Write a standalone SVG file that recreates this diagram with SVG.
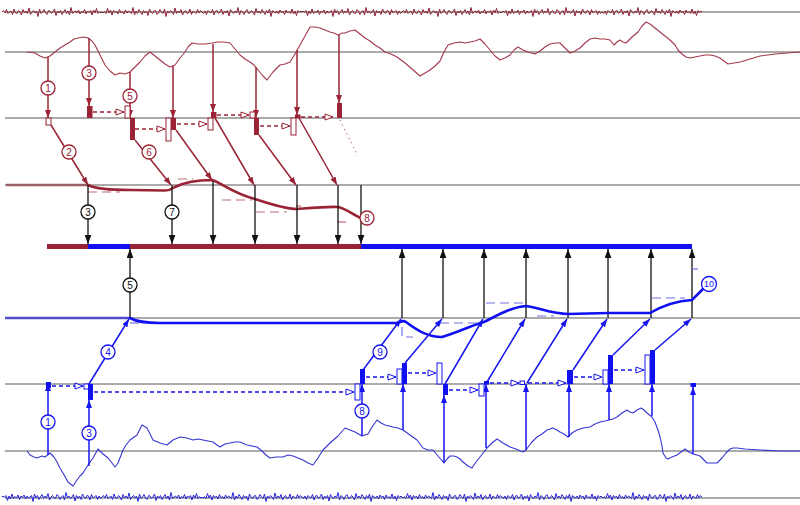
<svg xmlns="http://www.w3.org/2000/svg" xmlns:xlink="http://www.w3.org/1999/xlink" width="800" height="505" viewBox="0 0 800 505">
<style>
.g{stroke:#8f8f8f;stroke-width:1.5;fill:none}
.r{stroke:#9a2335;stroke-width:1.5;fill:none}
.rd{stroke:#9a2335;stroke-width:1.4;stroke-dasharray:4 3;fill:none}
.rl{stroke:#c06a78;stroke-width:1.2;stroke-dasharray:9 5;fill:none}
.rf{fill:#9a2335}
.rh{fill:#fff;stroke:#9a2335;stroke-width:1}
.b{stroke:#1515f0;stroke-width:1.5;fill:none}
.bd{stroke:#1515f0;stroke-width:1.4;stroke-dasharray:4 3;fill:none}
.bl{stroke:#7070e4;stroke-width:1.2;stroke-dasharray:9 5;fill:none}
.bf{fill:#1010f0}
.bh{fill:#fff;stroke:#1515f0;stroke-width:1}
.k{stroke:#111;stroke-width:1.3;fill:none}
.nr{stroke:#8e2233;stroke-width:1;fill:none}
.nb{stroke:#2626d8;stroke-width:1;fill:none}
.cr{fill:#fff;stroke:#9a2335;stroke-width:1.3}
.cb{fill:#fff;stroke:#1515f0;stroke-width:1.3}
.ck{fill:#fff;stroke:#111;stroke-width:1.3}
text{font-family:"Liberation Sans",Arial,sans-serif;font-size:10px;text-anchor:middle;dominant-baseline:central}
.tr{fill:#9a2335}.tb{fill:#1515f0}.tk{fill:#111}
</style>
<defs>
<marker id="ar" viewBox="0 0 8 6" refX="8" refY="3" markerWidth="8" markerHeight="6" orient="auto" markerUnits="userSpaceOnUse"><path d="M0,0L8,3L0,6z" fill="#9a2335"/></marker>
<marker id="arh" viewBox="-1 -1 10 8" refX="8" refY="3" markerWidth="10" markerHeight="8" orient="auto" markerUnits="userSpaceOnUse"><path d="M0,0L8,3L0,6z" fill="#fff" stroke="#9a2335" stroke-width="1"/></marker>
<marker id="ab" viewBox="0 0 8 6" refX="8" refY="3" markerWidth="8" markerHeight="6" orient="auto" markerUnits="userSpaceOnUse"><path d="M0,0L8,3L0,6z" fill="#1515f0"/></marker>
<marker id="abh" viewBox="-1 -1 10 8" refX="8" refY="3" markerWidth="10" markerHeight="8" orient="auto" markerUnits="userSpaceOnUse"><path d="M0,0L8,3L0,6z" fill="#fff" stroke="#1515f0" stroke-width="1"/></marker>
<marker id="ak" viewBox="0 0 8 6" refX="8" refY="3" markerWidth="9" markerHeight="7" orient="auto" markerUnits="userSpaceOnUse"><path d="M0,0L8,3L0,6z" fill="#111"/></marker>
<polyline id="nz" points="0,0 1.5,-1.5 3,1 4.5,-2.5 6,1.5 7.5,0 9,-1 10.5,2.5 12,-3 13.5,1 15,1.5 16.5,-1.5 18,0 19.5,3 21,-2.5 22.5,1 24,-1 25.5,1.5 27,-4 28.5,2.5 30,0 31.5,-1.5 33,1 34.5,-1 36,4.5 37.5,-3 39,1.5 40.5,0 42,-2.5 43.5,1 45,2.5 46.5,-1.5 48,-1 49.5,1.5 51,0 52.5,-3 54,3.5 55.5,-1 57,1 58.5,-1.5 60,2.5 61.5,0 63,-2.5 64.5,1.5 66,-1 67.5,3 69,-4.5 70.5,1.5 72,0 73.5,-1 75,1 76.5,-2 78,2 79.5,-0.5 81,1 82.5,-2.5 84,2 85.5,-1 87,0.5 88.5,-1.5 90,3 91.5,-2 93,1 94.5,-3.5 96,1.5 97.5,-0.5 99,1 100,0"/>
</defs>

<g id="gridlines">
<line class="g" x1="5" y1="12" x2="800" y2="12"/>
<line class="g" x1="5" y1="52" x2="800" y2="52"/>
<line class="g" x1="5" y1="118" x2="800" y2="118"/>
<line class="g" x1="5" y1="185" x2="800" y2="185"/>
<line class="g" x1="5" y1="318" x2="800" y2="318"/>
<line class="g" x1="5" y1="384" x2="800" y2="384"/>
<line class="g" x1="5" y1="451" x2="800" y2="451"/>
<line class="g" x1="5" y1="498" x2="800" y2="498"/>
<line x1="6" y1="185" x2="88" y2="185" stroke="#9a6068" stroke-width="2.5"/>
<line x1="5" y1="318" x2="130" y2="318" stroke="#4e4ec8" stroke-width="2.5"/>
</g>

<g id="noise-top">
<use xlink:href="#nz" class="nr" transform="translate(2,12)"/>
<use xlink:href="#nz" class="nr" transform="translate(202,12) scale(-1,1)"/>
<use xlink:href="#nz" class="nr" transform="translate(202,12) scale(1,-1)"/>
<use xlink:href="#nz" class="nr" transform="translate(402,12) scale(-1,-1)"/>
<use xlink:href="#nz" class="nr" transform="translate(402,12)"/>
<use xlink:href="#nz" class="nr" transform="translate(602,12) scale(-1,-1)"/>
<use xlink:href="#nz" class="nr" transform="translate(602,12) scale(1,-1)"/>
</g>
<g id="noise-bottom">
<use xlink:href="#nz" class="nb" transform="translate(102,497) scale(-1,-1)"/>
<use xlink:href="#nz" class="nb" transform="translate(102,497)"/>
<use xlink:href="#nz" class="nb" transform="translate(302,497) scale(-1,1)"/>
<use xlink:href="#nz" class="nb" transform="translate(302,497) scale(1,-1)"/>
<use xlink:href="#nz" class="nb" transform="translate(502,497) scale(-1,1)"/>
<use xlink:href="#nz" class="nb" transform="translate(502,497) scale(1,-1)"/>
<use xlink:href="#nz" class="nb" transform="translate(702,497) scale(-1,1)"/>
</g>

<g id="signal-red">
<polyline fill="none" stroke="#a3384a" stroke-width="1.1" stroke-linejoin="round" points="27,52 35,53 40,56 45,58 50,56 55,52 60,48 65,45 70,42 74,39 78,38 84,37 88,38 92,41 95,45 100,55 105,65 110,71 115,75 120,73 125,74 130,72 135,67 140,62 145,56 150,52 155,56 160,60 165,64 170,67 175,65 180,58 185,52 188,47 192,43 198,44 205,44 212,43 218,42 224,42 230,43 235,49 240,55 245,59 250,62 254,65 258,70 263,76 267,80 273,72 280,65 285,64 290,62 295,54 300,45 305,36 310,27 315,27 320,28 325,30 330,32 334,33 338,35 342,33 345,33 350,31 355,30 360,34 365,38 370,41 375,45 380,48 385,52 391,54 397,57 401,60 405,63 412,69 420,76 425,73 430,70 435,66 440,61 444,52 448,45 454,43 460,42 465,43 470,42 475,41 480,39 485,44 490,50 495,56 500,60 505,58 510,55 514,50 518,47 523,50 528,52 535,54 540,51 545,47 550,44 555,43 560,43 565,48 570,53 575,51 580,48 585,43 590,39 595,38 600,39 605,39 610,40 614,45 617,42 620,40 623,42 626,43 632,37 638,32 642,26 646,22 650,24 655,28 660,32 665,36 670,40 675,45 678,50 682,54 686,57 690,58 695,57 700,56 705,55 710,55 715,56 720,58 724,61 728,64 734,63 740,62 750,59 760,56 775,54 800,52"/>
</g>

<g id="signal-blue">
<polyline fill="none" stroke="#3636d4" stroke-width="1.1" stroke-linejoin="round" points="27,451 30,455 34,457 37,458 42,456 45,457 50,453 54,457 57,462 60,468 63,473 68,482 73,486 77,480 80,476 83,473 88,465 93,458 98,449 103,454 108,458 112,463 115,467 118,463 123,450 126,445 130,440 137,435 142,425 147,428 150,434 153,440 160,443 167,445 173,440 180,437 187,438 193,440 198,439 203,440 208,441 213,442 217,445 220,447 225,444 230,443 235,442 240,442 247,445 252,446 257,447 262,451 266,455 270,458 276,457 283,457 288,455 293,456 298,458 303,460 308,463 313,465 318,458 323,450 330,443 338,436 345,428 350,430 355,432 362,436 368,434 372,427 377,420 381,423 385,425 389,426 393,427 398,428 403,430 410,435 417,440 423,448 428,450 433,450 438,456 444,463 447,459 450,456 454,456 457,457 460,459 463,462 468,466 472,468 476,462 480,457 484,452 487,448 492,443 497,439 503,443 510,447 516,449 523,452 526,450 531,443 537,437 542,434 547,430 553,428 557,430 560,432 564,434 568,437 572,433 577,430 583,428 590,427 595,424 600,422 605,421 609,420 613,419 617,417 622,413 627,410 630,412 633,413 637,410 641,408 644,410 647,413 652,417 655,422 658,430 660,437 662,446 663,453 666,458 668,459 672,457 677,455 681,452 685,449 689,452 693,454 697,455 700,456 704,460 707,463 712,463 717,463 720,460 722,458 726,453 730,449 733,448 737,448 745,449 760,450 780,451 800,451"/>
</g>

<g id="red-measurement-arrows">
<line class="r" x1="48" y1="57" x2="48" y2="118" marker-end="url(#ar)"/>
<line class="r" x1="89" y1="38" x2="89" y2="106" marker-end="url(#ar)"/>
<line class="r" x1="130" y1="72" x2="130" y2="118" marker-end="url(#ar)"/>
<line class="r" x1="173" y1="66" x2="173" y2="118" marker-end="url(#ar)"/>
<line class="r" x1="213" y1="44" x2="213" y2="112" marker-end="url(#ar)"/>
<line class="r" x1="256" y1="67" x2="256" y2="118" marker-end="url(#ar)"/>
<line class="r" x1="297" y1="50" x2="297" y2="115" marker-end="url(#ar)"/>
<line class="r" x1="339" y1="35" x2="339" y2="103" marker-end="url(#ar)"/>
</g>

<g id="red-blocks">
<rect class="rh" x="46" y="118" width="5" height="7"/>
<rect class="rf" x="87" y="106" width="5.5" height="12"/>
<rect class="rh" x="125" y="106" width="5" height="12"/>
<rect class="rf" x="130" y="118" width="5" height="22"/>
<rect class="rh" x="166" y="118" width="5" height="23"/>
<rect class="rf" x="171" y="118" width="5" height="12"/>
<rect class="rh" x="208" y="118" width="5" height="12"/>
<rect class="rf" x="211" y="112" width="5.5" height="6"/>
<rect class="rh" x="250" y="112" width="5" height="6"/>
<rect class="rf" x="254" y="118" width="5" height="17"/>
<rect class="rh" x="291" y="118" width="5" height="17"/>
<rect class="rf" x="295" y="114.5" width="5.5" height="3.5"/>
<rect class="rf" x="337" y="103" width="5" height="15"/>
</g>

<g id="red-dashed-arrows">
<line class="rd" x1="93" y1="112" x2="124" y2="112" marker-end="url(#arh)"/>
<line class="rd" x1="135" y1="129" x2="165" y2="129" marker-end="url(#arh)"/>
<line class="rd" x1="177" y1="124" x2="207" y2="124" marker-end="url(#arh)"/>
<line class="rd" x1="217" y1="115" x2="249" y2="115" marker-end="url(#arh)"/>
<line class="rd" x1="260" y1="126" x2="290" y2="126" marker-end="url(#arh)"/>
<line class="rd" x1="301" y1="117" x2="333" y2="117" marker-end="url(#arh)"/>
</g>

<g id="red-diagonals">
<line class="r" x1="51" y1="125" x2="88" y2="185" marker-end="url(#ar)"/>
<line class="r" x1="135" y1="140" x2="171" y2="185" marker-end="url(#ar)"/>
<line class="r" x1="176" y1="130" x2="212" y2="180" marker-end="url(#ar)"/>
<line class="r" x1="215" y1="118" x2="254" y2="185" marker-end="url(#ar)"/>
<line class="r" x1="259" y1="135" x2="296" y2="185" marker-end="url(#ar)"/>
<line class="r" x1="299" y1="118" x2="337" y2="185" marker-end="url(#ar)"/>
<line x1="340" y1="120" x2="358" y2="156" stroke="#9a2335" stroke-width="1" stroke-dasharray="1 4"/>
</g>

<g id="red-estimate">
<line class="rl" x1="88" y1="192" x2="120" y2="192"/>
<line class="rl" x1="178" y1="179" x2="193" y2="179"/>
<line class="rl" x1="222" y1="200" x2="252" y2="200"/>
<line class="rl" x1="256" y1="212" x2="287" y2="212"/>
<line class="rl" x1="296" y1="206" x2="301" y2="206"/>
<line class="rl" x1="337" y1="222" x2="351" y2="222"/>
<path fill="none" stroke="#9a2335" stroke-width="2.6" stroke-linecap="round" d="M88,185 C96,189 110,190 130,190 L165,190.5 C170,190.5 172,189 175,187 C185,182 200,180 212,180 C222,183 232,193 255,199 C270,204 285,209 297,209 C310,208 325,206.5 338,207 C347,209 353,215 361,218"/>
</g>

<g id="black-updates">
<line class="k" x1="88" y1="185" x2="88" y2="244" marker-end="url(#ak)"/>
<line class="k" x1="172" y1="185" x2="172" y2="244" marker-end="url(#ak)"/>
<line class="k" x1="213" y1="181" x2="213" y2="244" marker-end="url(#ak)"/>
<line class="k" x1="255" y1="185" x2="255" y2="244" marker-end="url(#ak)"/>
<line class="k" x1="297" y1="185" x2="297" y2="244" marker-end="url(#ak)"/>
<line class="k" x1="338" y1="185" x2="338" y2="244" marker-end="url(#ak)"/>
<line class="k" x1="361" y1="185" x2="361" y2="244" marker-end="url(#ak)"/>
<line class="k" x1="130" y1="318" x2="130" y2="249" marker-end="url(#ak)"/>
<line class="k" x1="402" y1="318" x2="402" y2="249" marker-end="url(#ak)"/>
<line class="k" x1="443" y1="318" x2="443" y2="249" marker-end="url(#ak)"/>
<line class="k" x1="484" y1="318" x2="484" y2="249" marker-end="url(#ak)"/>
<line class="k" x1="526" y1="318" x2="526" y2="249" marker-end="url(#ak)"/>
<line class="k" x1="568" y1="318" x2="568" y2="249" marker-end="url(#ak)"/>
<line class="k" x1="608" y1="318" x2="608" y2="249" marker-end="url(#ak)"/>
<line class="k" x1="651" y1="318" x2="651" y2="249" marker-end="url(#ak)"/>
<line class="k" x1="692" y1="318" x2="692" y2="249" marker-end="url(#ak)"/>
</g>

<g id="fused-bar">
<rect x="47" y="244" width="41" height="5" fill="#9a2335"/>
<rect x="88" y="244" width="42" height="5" fill="#1010f0"/>
<rect x="130" y="244" width="231" height="5" fill="#9a2335"/>
<rect x="361" y="244" width="331" height="5" fill="#1010f0"/>
</g>

<g id="blue-estimate">
<line class="bl" x1="130" y1="323" x2="141" y2="323"/>
<polyline class="bl" points="402,327 402,337 413,337"/>
<line class="bl" x1="440" y1="323" x2="481" y2="323"/>
<line class="bl" x1="486" y1="303" x2="523" y2="303"/>
<line class="bl" x1="537" y1="316" x2="554" y2="316"/>
<line class="bl" x1="652" y1="298" x2="685" y2="298"/>
<line class="bl" x1="692" y1="269" x2="698" y2="269"/>
<path fill="none" stroke="#1010f0" stroke-width="2.6" stroke-linecap="round" d="M130,318 C137,322 145,323 160,323 L398,323 C401,321 403,320 406,322 C418,331 428,337 442,337 C456,333 470,326 484,322 C500,314 512,307 526,306 C540,308 552,314 568,314 L608,313 L650,313 C662,306 675,301 692,300 L703,289"/>
</g>

<g id="blue-diagonals">
<line class="b" x1="89" y1="384" x2="129" y2="319" marker-end="url(#ab)"/>
<line class="b" x1="363" y1="370" x2="401" y2="319" marker-end="url(#ab)"/>
<line class="b" x1="405" y1="363" x2="442" y2="319" marker-end="url(#ab)"/>
<line class="b" x1="445" y1="384" x2="483" y2="319" marker-end="url(#ab)"/>
<line class="b" x1="487" y1="382" x2="525" y2="319" marker-end="url(#ab)"/>
<line class="b" x1="527" y1="383" x2="567" y2="319" marker-end="url(#ab)"/>
<line class="b" x1="573" y1="370" x2="607" y2="319" marker-end="url(#ab)"/>
<line class="b" x1="613" y1="355" x2="650" y2="319" marker-end="url(#ab)"/>
<line class="b" x1="655" y1="350" x2="691" y2="319" marker-end="url(#ab)"/>
</g>

<g id="blue-measurement-arrows">
<line class="b" x1="48" y1="455" x2="48" y2="383" marker-end="url(#ab)"/>
<line class="b" x1="89" y1="466" x2="89" y2="400" marker-end="url(#ab)"/>
<line class="b" x1="362" y1="436" x2="362" y2="384" marker-end="url(#ab)"/>
<line class="b" x1="403" y1="430" x2="403" y2="384" marker-end="url(#ab)"/>
<line class="b" x1="444" y1="463" x2="444" y2="395" marker-end="url(#ab)"/>
<line class="b" x1="486" y1="448" x2="486" y2="384" marker-end="url(#ab)"/>
<line class="b" x1="526" y1="450" x2="526" y2="384" marker-end="url(#ab)"/>
<line class="b" x1="569" y1="437" x2="569" y2="384" marker-end="url(#ab)"/>
<line class="b" x1="609" y1="420" x2="609" y2="384" marker-end="url(#ab)"/>
<line class="b" x1="652" y1="416" x2="652" y2="384" marker-end="url(#ab)"/>
<line class="b" x1="693" y1="454" x2="693" y2="387" marker-end="url(#ab)"/>
</g>

<g id="blue-blocks">
<rect class="bf" x="46" y="382" width="5" height="6"/>
<rect class="bh" x="84" y="384" width="4.5" height="5"/>
<rect class="bf" x="88" y="384" width="5" height="16"/>
<rect class="bh" x="355" y="384" width="5" height="16"/>
<rect class="bf" x="360" y="369" width="5" height="15"/>
<rect class="bh" x="397" y="369" width="5" height="15"/>
<rect class="bf" x="402" y="363" width="5" height="21"/>
<rect class="bh" x="437" y="363" width="5" height="21"/>
<rect class="bf" x="443" y="384" width="5" height="11"/>
<rect class="bh" x="479" y="384" width="5" height="12"/>
<rect class="bf" x="484" y="381" width="5" height="3.5"/>
<rect class="bh" x="520" y="381" width="4.5" height="3.5"/>
<rect class="bf" x="567" y="370" width="6" height="14"/>
<rect class="bh" x="603" y="370" width="5" height="14"/>
<rect class="bf" x="608" y="355" width="5" height="29"/>
<rect class="bh" x="645" y="355" width="5" height="29"/>
<rect class="bf" x="650" y="350" width="5" height="34"/>
<rect class="bf" x="690.5" y="383" width="5.5" height="4"/>
</g>

<g id="blue-dashed-arrows">
<line class="bd" x1="52" y1="386" x2="83" y2="386" marker-end="url(#abh)"/>
<line class="bd" x1="94" y1="392" x2="354" y2="392" marker-end="url(#abh)"/>
<line class="bd" x1="366" y1="377" x2="396" y2="377" marker-end="url(#abh)"/>
<line class="bd" x1="408" y1="373" x2="436" y2="373" marker-end="url(#abh)"/>
<line class="bd" x1="449" y1="390" x2="478" y2="390" marker-end="url(#abh)"/>
<line class="bd" x1="490" y1="383" x2="519" y2="383" marker-end="url(#abh)"/>
<line class="bd" x1="528" y1="383" x2="566" y2="383" marker-end="url(#abh)"/>
<line class="bd" x1="574" y1="377" x2="602" y2="377" marker-end="url(#abh)"/>
<line class="bd" x1="614" y1="370" x2="644" y2="370" marker-end="url(#abh)"/>
</g>

<g id="labels">
<g id="lr1"><circle class="cr" cx="48" cy="88" r="7"/><text class="tr" x="48" y="88">1</text></g>
<g id="lr3"><circle class="cr" cx="89" cy="73" r="7"/><text class="tr" x="89" y="73">3</text></g>
<g id="lr5"><circle class="cr" cx="130" cy="96" r="7"/><text class="tr" x="130" y="96">5</text></g>
<g id="lr2"><circle class="cr" cx="69" cy="152" r="7"/><text class="tr" x="69" y="152">2</text></g>
<g id="lr6"><circle class="cr" cx="149" cy="152" r="7"/><text class="tr" x="149" y="152">6</text></g>
<g id="lr8"><circle class="cr" cx="367" cy="218" r="7"/><text class="tr" x="367" y="218">8</text></g>
<g id="lk3"><circle class="ck" cx="88" cy="212" r="7"/><text class="tk" x="88" y="212">3</text></g>
<g id="lk7"><circle class="ck" cx="172" cy="212" r="7"/><text class="tk" x="172" y="212">7</text></g>
<g id="lk5"><circle class="ck" cx="130" cy="285" r="7"/><text class="tk" x="130" y="285">5</text></g>
<g id="lb4"><circle class="cb" cx="108" cy="352" r="7"/><text class="tb" x="108" y="352">4</text></g>
<g id="lb1"><circle class="cb" cx="48" cy="422" r="7"/><text class="tb" x="48" y="422">1</text></g>
<g id="lb3"><circle class="cb" cx="89" cy="433" r="7"/><text class="tb" x="89" y="433">3</text></g>
<g id="lb9"><circle class="cb" cx="380" cy="352" r="7"/><text class="tb" x="380" y="352">9</text></g>
<g id="lb8"><circle class="cb" cx="362" cy="411" r="7"/><text class="tb" x="362" y="411">8</text></g>
<g id="lb10"><circle class="cb" cx="709" cy="284" r="7.5"/><text class="tb" x="709" y="284" style="font-size:9px">10</text></g>
</g>
</svg>
